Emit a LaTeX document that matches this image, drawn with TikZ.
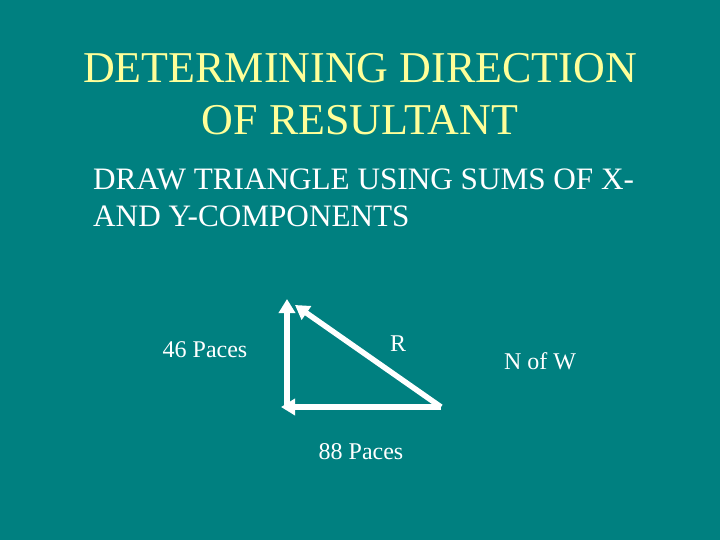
\documentclass[tikz,border=0pt]{standalone}
\usepackage{fontspec}
\setmainfont{Liberation Serif}
\usetikzlibrary{arrows.meta}
\definecolor{bg}{HTML}{008080}
\definecolor{ttl}{HTML}{FFFF99}
\begin{document}
\begin{tikzpicture}[x=1bp,y=-1bp,
  vec/.style={white,line width=5.5bp,-{Triangle[length=14bp,width=16bp]}},
  lbl/.style={white,font=\fontsize{24bp}{28bp}\selectfont,inner sep=0}]
\fill[bg] (0,0) rectangle (720,540);
\useasboundingbox (0,0) rectangle (720,540);
\node[ttl,font=\fontsize{44bp}{50bp}\selectfont,align=center,inner sep=0] (title) at (360,94) {DETERMINING DIRECTION\\[2bp]OF RESULTANT};
\node[white,font=\fontsize{31.2bp}{37bp}\selectfont,align=left,anchor=west,inner sep=0] (body) at (93,198) {DRAW TRIANGLE USING SUMS OF X-\\AND Y-COMPONENTS};
\coordinate (bl) at (287,407);
\coordinate (br) at (441,407);
\coordinate (tl) at (287,299);
\coordinate (tlR) at (295,305);
\coordinate (bll) at (281,407);
\draw[vec] (br) -- (bll);
\draw[vec] (bl) -- (tl);
\draw[vec] (br) -- (tlR);
\node[lbl] (p46) at (205,350) {46 Paces};
\node[lbl] (r) at (398,344) {R};
\node[lbl] (now) at (540,361) {N of W};
\node[lbl] (p88) at (361,452) {88 Paces};
\end{tikzpicture}
\end{document}
